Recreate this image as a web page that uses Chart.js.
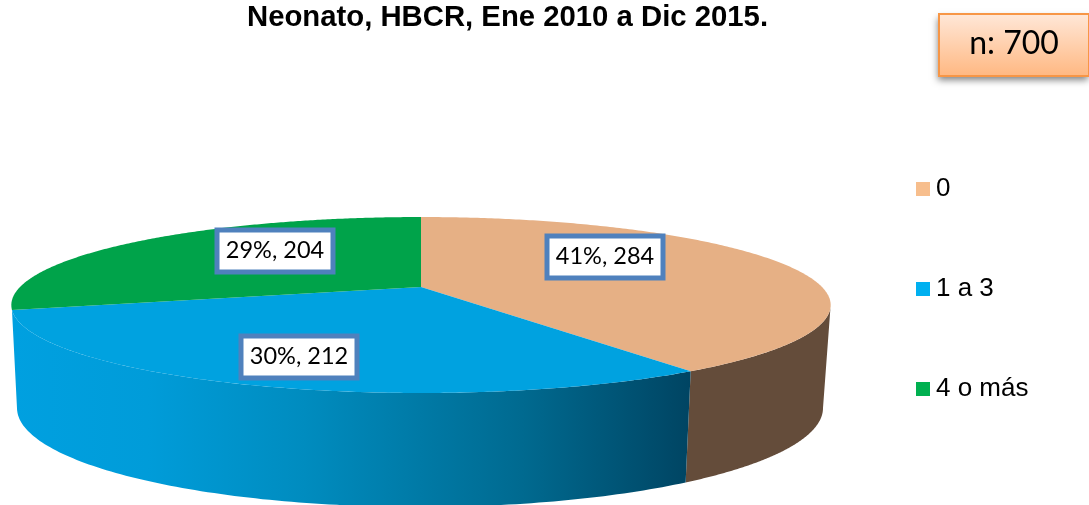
<!DOCTYPE html>
<html><head><meta charset="utf-8">
<style>html,body{margin:0;padding:0;background:#fff;overflow:hidden}canvas{display:block}</style>
<script src="https://cdn.jsdelivr.net/npm/chart.js@4"></script>
</head><body><canvas id="c" width="1089" height="505"></canvas>
<script>
const categories = ['0', '1 a 3', '4 o más'];
const values = [284, 212, 204];
const percents = [41, 30, 29];
const titleText = 'Neonato, HBCR, Ene 2010 a Dic 2015.';
const sampleSize = 'n: 700';
const topColors = ['#e6b085', '#00a2e0', '#00a34a'];
const legendColors = ['#f7be8d', '#00b0f0', '#00b050'];

/* perspective of the tilted disc */
const persp = {cx:421, cy:287, rx:401, ry:84.3, k:0.2046};
const base = {cx:420, cy:408, rx:403, ry:99, sx:0.985};
const labelBoxes = [{x:547,y:236,w:116,h:42},{x:241,y:336,w:116,h:42},{x:217,y:230,w:116,h:42}];

function topPt(t){const d=1+persp.k*Math.cos(t);
  return [persp.cx+persp.rx*Math.sin(t)/d, persp.cy-persp.ry*Math.cos(t)/d];}
function basePt(t){const p=topPt(t);
  let u=(p[0]-persp.cx)*base.sx/base.rx; u=Math.max(-1,Math.min(1,u));
  return [base.cx+base.rx*u, base.cy+base.ry*Math.sqrt(1-u*u)];}
function range(a,b,n){const r=[];for(let i=0;i<=n;i++)r.push(a+(b-a)*i/n);return r;}

function swatch(color){const s=document.createElement('canvas');s.width=14;s.height=14;
  const g=s.getContext('2d');g.fillStyle=color;g.fillRect(0,0,14,14);return s;}

const disc3d = {
  id:'disc3d',
  afterLayout(chart){const l=chart.legend;const p=l.options.labels.padding;
    l.left=922-p; l.right=l.left+l.width; l.top=176-p;},
  beforeDatasetsDraw(chart){
    const ctx=chart.ctx, arcs=chart.getDatasetMeta(0).data;
    const th=arcs.map(a=>[a.startAngle+Math.PI/2,a.endAngle+Math.PI/2]);
    const sil=Math.acos(-persp.k);
    ctx.save();
    // side walls
    const side=(a,b,fill)=>{const ts=range(a,b,120);ctx.beginPath();
      ts.forEach((t,i)=>{const p=topPt(t);i?ctx.lineTo(p[0],p[1]):ctx.moveTo(p[0],p[1]);});
      ts.slice().reverse().forEach(t=>{const p=basePt(t);ctx.lineTo(p[0],p[1]);});
      ctx.closePath();ctx.fillStyle=fill;ctx.fill();};
    side(sil,th[0][1],'#644c3a');
    const g=ctx.createLinearGradient(12,0,692,0);
    g.addColorStop(0,'#00a0e0');g.addColorStop(0.2,'#009cd9');g.addColorStop(0.43,'#008cbf');
    g.addColorStop(0.75,'#006a90');g.addColorStop(1,'#004462');
    side(th[1][0],th[1][1],g);
    // top faces
    arcs.forEach((a,i)=>{ctx.beginPath();ctx.moveTo(persp.cx,persp.cy);
      range(th[i][0],th[i][1],240).forEach(t=>{const p=topPt(t);ctx.lineTo(p[0],p[1]);});
      ctx.closePath();ctx.fillStyle=a.options.backgroundColor;ctx.fill();});
    // data labels
    ctx.textAlign='center';ctx.textBaseline='middle';
    labelBoxes.forEach((b,i)=>{
      ctx.fillStyle='#fff';ctx.strokeStyle='#4f81bd';ctx.lineWidth=5;
      ctx.beginPath();ctx.rect(b.x,b.y,b.w,b.h);ctx.fill();ctx.stroke();
      ctx.fillStyle='#000';ctx.font='23.5px Lato';
      ctx.fillText(percents[i]+'%, '+values[i],b.x+b.w/2,b.y+b.h/2-1);});
    // sample-size note
    ctx.save();ctx.shadowColor='rgba(0,0,0,0.5)';ctx.shadowBlur=7;ctx.shadowOffsetY=4;ctx.shadowOffsetX=-1;
    const n=ctx.createLinearGradient(0,13,0,76);n.addColorStop(0,'#ffe8d9');n.addColorStop(1,'#ffb882');
    ctx.fillStyle=n;ctx.fillRect(939,14,150,62);ctx.restore();
    ctx.strokeStyle='#f79646';ctx.lineWidth=2;ctx.strokeRect(939,14,150,62);
    ctx.fillStyle='#000';ctx.font='32px Lato';ctx.fillText(sampleSize,1014,44);
    ctx.restore();
    return false;
  }
};

new Chart(document.getElementById('c'),{
  type:'pie',
  data:{labels:categories,datasets:[{data:values,backgroundColor:topColors,borderWidth:0}]},
  plugins:[disc3d],
  options:{
    responsive:false,animation:false,
    layout:{padding:{right:74}},
    plugins:{
      tooltip:{enabled:false},
      title:{display:true,text:titleText,color:'#000',
        font:{family:'"Liberation Sans"',size:29.3,weight:'bold',lineHeight:1.1},
        padding:{top:2,bottom:0}},
      legend:{position:'right',align:'start',
        labels:{font:{family:'"Liberation Sans"',size:26},color:'#000',padding:74,
          boxWidth:14,boxHeight:14,usePointStyle:true,pointStyleWidth:1,
          generateLabels:()=>categories.map((text,i)=>({text,index:i,hidden:false,lineWidth:0,
            fontColor:'#000',fillStyle:legendColors[i],strokeStyle:legendColors[i],pointStyle:swatch(legendColors[i])}))}}
    }
  }
});
</script></body></html>
